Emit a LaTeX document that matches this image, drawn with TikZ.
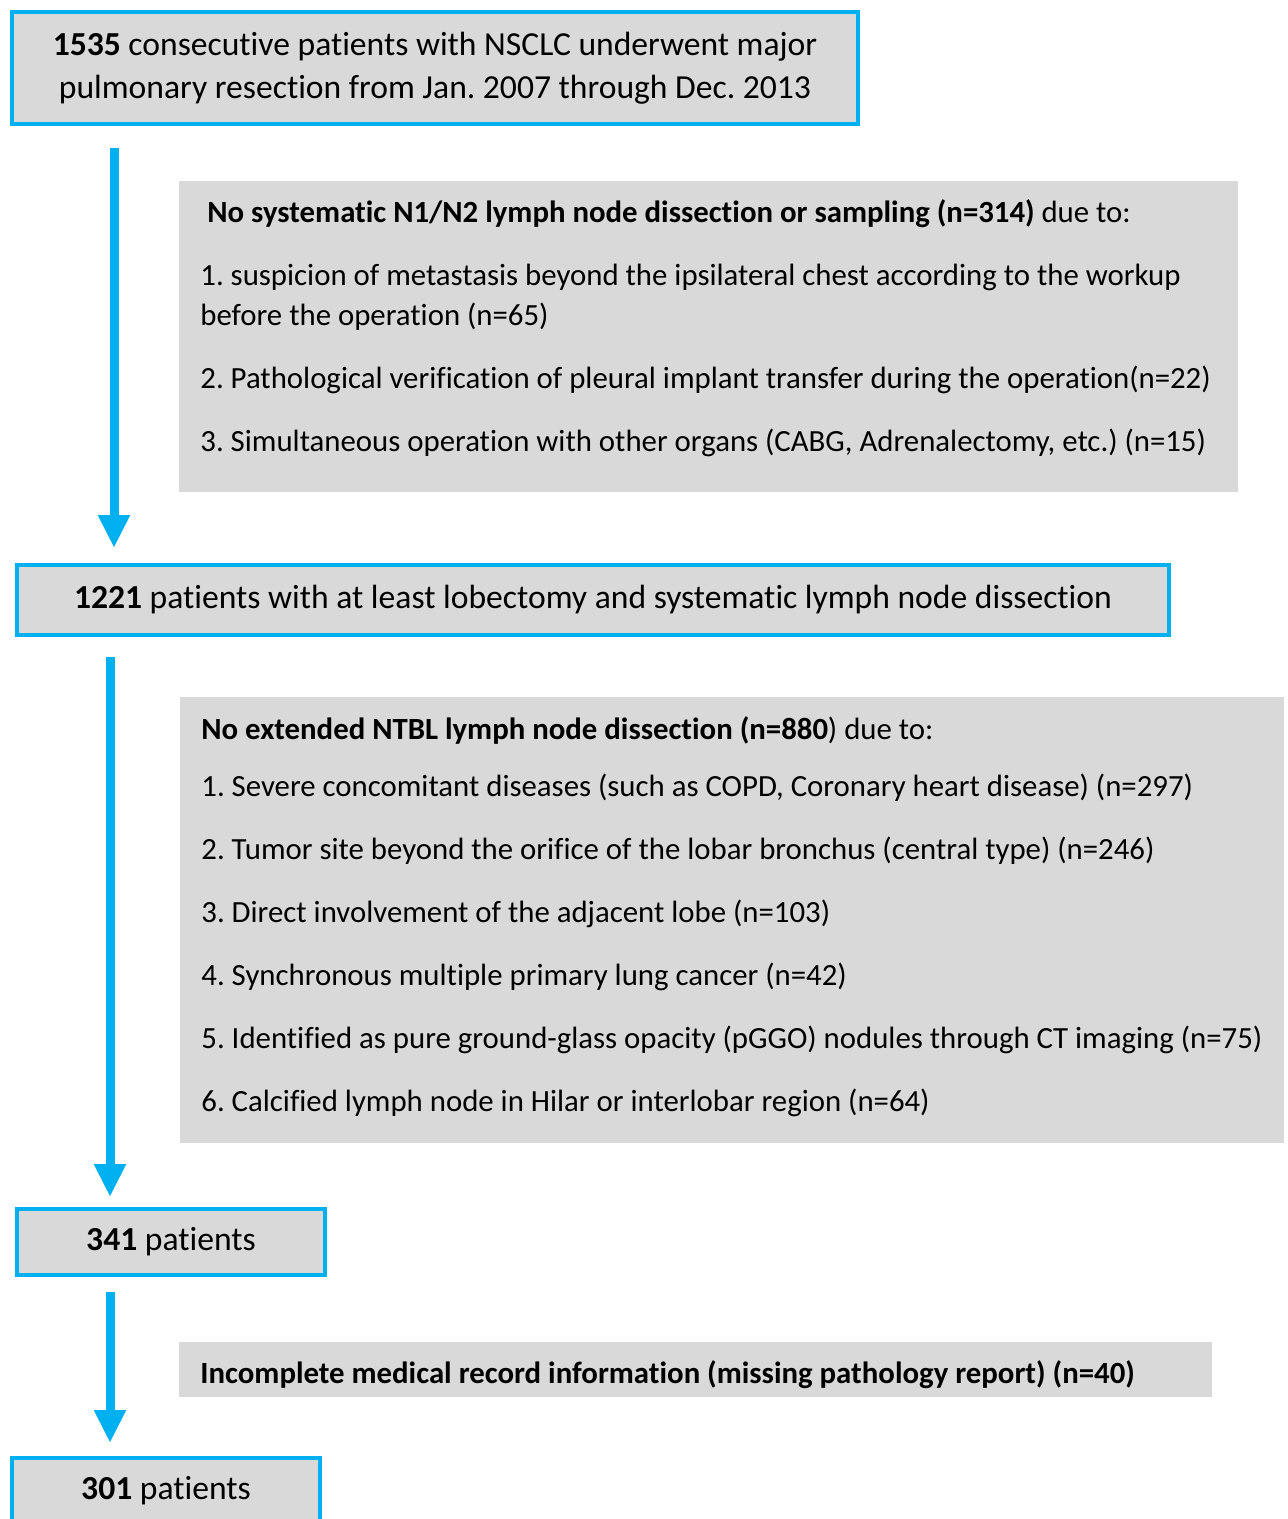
\documentclass[tikz,border=0pt]{standalone}
\usepackage{fontspec}
\setmainfont{Carlito}[Ligatures=NoCommon]
\usepackage{xcolor}
\usepackage{tikz}
\usetikzlibrary{arrows.meta,positioning,calc}
\frenchspacing
\definecolor{flowblue}{HTML}{00B0F0}
\definecolor{boxgray}{HTML}{D9D9D9}
\tikzstyle{block} = [rectangle, draw=flowblue, line width=2pt, fill=boxgray, align=center, inner sep=0pt]
\tikzstyle{excl} = [rectangle, fill=boxgray, anchor=north west, inner xsep=10.5pt, inner ysep=6.5pt, font=\fontsize{15.4}{20}\selectfont]
\tikzstyle{line} = [draw=flowblue, line width=4.5pt, -{Triangle[width=15pt,length=16.5pt]}]
\newcommand{\reasons}[3]{\parbox[c][#1][t]{#2}{\fontsize{15.4}{20}\selectfont\raggedright #3}}
\newcommand{\gap}{\\[11.5pt]}

\begin{document}
\begin{tikzpicture}[x=0.5pt, y=-0.5pt, font=\fontsize{16.8}{21.5}\selectfont]
        \useasboundingbox (0,0) rectangle (1288,1519);
        \clip (0,0) rectangle (1288,1519);
        % Nodes
        \node [block, minimum width=423pt, minimum height=56pt] (start) at (435,68)
            {\textbf{1535} consecutive patients with NSCLC underwent major\\pulmonary resection from Jan. 2007 through Dec. 2013};
        \node [excl] (nodissect) at (179,181) {\reasons{142.5pt}{508.5pt}{%
            \strut\hspace*{3.5pt}\textbf{No systematic N1/N2 lymph node dissection or sampling (n=314)} due to:\gap
            1. suspicion of metastasis beyond the ipsilateral chest according to the workup\\
            before the operation (n=65)\gap
            2. Pathological verification of pleural implant transfer during the operation(n=22)\gap
            3. Simultaneous operation with other organs (CABG, Adrenalectomy, etc.) (n=15)}};
        \node [block, minimum width=576pt, minimum height=35pt] (lobectomy) at (593,600)
            {\textbf{1221} patients with at least lobectomy and systematic lymph node dissection};
        \node [excl, inner ysep=7pt] (noextended) at (180,697) {\reasons{209pt}{531pt}{%
            \strut\textbf{No extended NTBL lymph node dissection (n=880}) due to:\\[8.5pt]
            1. Severe concomitant diseases (such as COPD, Coronary heart disease) (n=297)\gap
            2. Tumor site beyond the orifice of the lobar bronchus (central type) (n=246)\gap
            3. Direct involvement of the adjacent lobe (n=103)\gap
            4. Synchronous multiple primary lung cancer (n=42)\gap
            5. Identified as pure ground-glass opacity (pGGO) nodules through CT imaging (n=75)\gap
            6. Calcified lymph node in Hilar or interlobar region (n=64)}};
        \node [block, minimum width=154pt, minimum height=33pt] (ntbl) at (171,1242) {\textbf{341} patients};
        \node [excl, inner ysep=0pt, text width=495.5pt, align=flush left, text height=15pt, text depth=1.5pt,
            minimum height=27.5pt] (incomplete) at (179,1342)
            {\textbf{Incomplete medical record information (missing pathology report) (n=40)}};
        \node [block, minimum width=154pt, minimum height=33pt] (final) at (166,1491) {\textbf{301} patients};

        % Paths
        \path [line] ([shift={(52pt,-11pt)}]start.south west) -- ([shift={(49.5pt,7.5pt)}]lobectomy.north west);
        \path [line] ([shift={(47.5pt,-10pt)}]lobectomy.south west) -- ([shift={(47.5pt,5pt)}]ntbl.north west);
        \path [line] ([shift={(47.5pt,-7.5pt)}]ntbl.south west) -- ([shift={(50pt,6.5pt)}]final.north west);
    \end{tikzpicture}
\end{document}
